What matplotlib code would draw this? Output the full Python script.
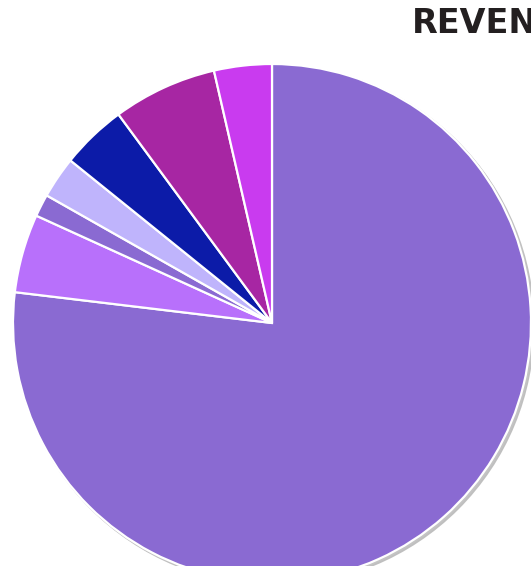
import numpy as np
import matplotlib
matplotlib.use("Agg")
import matplotlib.pyplot as plt
from matplotlib.patches import Circle

# -----------------------------
# Datos (% aprox.)
# -----------------------------
segments = ["Main", "Seg B", "Seg C", "Seg D", "Seg E", "Seg F", "Seg G"]
shares = [76.9, 4.9, 1.4, 2.6, 4.1, 6.5, 3.6]
colors = ["#8a6ad2", "#b870fb", "#8a6ad2", "#bfb4fc", "#0c1ba8", "#a726a3", "#c93bef"]
title_text = "REVENUE"

W, H = 531, 566
fig = plt.figure(figsize=(W / 100, H / 100), dpi=100)

# pie: centro ~(272, 323) px, radio ~259 px
cx, cy, r = 272, 323, 259
ax = fig.add_axes([(cx - r) / W, (H - cy - r) / H, 2 * r / W, 2 * r / H])
ax.set_xlim(-1, 1)
ax.set_ylim(-1, 1)
ax.set_aspect("equal")
ax.axis("off")

# sombra suave
ax.add_patch(Circle((0.010, -0.010), 1.004, color="#8c8c8c", alpha=0.55, zorder=0, lw=0))
ax.add_patch(Circle((0.005, -0.005), 1.004, color="#c8c8c8", alpha=0.6, zorder=0, lw=0))

wedges, _ = ax.pie(shares, colors=colors, startangle=90, counterclock=False,
                   radius=1.0, wedgeprops=dict(edgecolor="white", linewidth=1.6))
for w in wedges:
    w.set_zorder(2)
ax.set_xlim(-1, 1)
ax.set_ylim(-1, 1)

# el titulo sale cortado por el borde derecho, igual que en la referencia
fig.text(412 / W, 1 - 33 / H, title_text, fontsize=24, fontweight="bold",
         color="#231f20", ha="left", va="baseline", family="DejaVu Sans")

fig.savefig("out.png", dpi=100)
